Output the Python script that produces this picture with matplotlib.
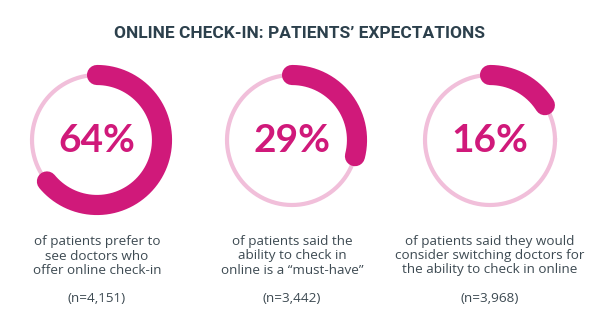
import numpy as np
import matplotlib
matplotlib.use('Agg')
import matplotlib.pyplot as plt

title = 'ONLINE CHECK-IN: PATIENTS\u2019 EXPECTATIONS'
values = [64, 29, 16]
captions = [
    'of patients prefer to\nsee doctors who\noffer online check-in',
    'of patients said the\nability to check in\nonline is a \u201cmust-have\u201d',
    'of patients said they would\nconsider switching doctors for\nthe ability to check in online',
]
sample_sizes = ['(n=4,151)', '(n=3,442)', '(n=3,968)']

MAGENTA = '#d0197a'
LIGHT = '#f1bfda'
DARK = '#2c404c'
GREY = '#3d4a52'

centers_x = [97, 292, 490]
cy = 140
r = 65

fig = plt.figure(figsize=(6, 3.3), dpi=100)
ax = fig.add_axes([0, 0, 1, 1])
ax.set_xlim(0, 600)
ax.set_ylim(330, 0)
ax.set_aspect('equal')
ax.axis('off')

fig.text(0.5, 1 - 33 / 330, title, ha='center', va='center',
         fontsize=12.5, fontweight='bold', color=DARK, family='Roboto')

for cx, v, cap, n in zip(centers_x, values, captions, sample_sizes):
    # full thin ring
    t = np.linspace(0, 2 * np.pi, 400)
    ax.plot(cx + r * np.cos(t), cy + r * np.sin(t), color=LIGHT, lw=3, zorder=1)
    # thick arc clockwise from 12 o'clock (y axis inverted)
    t = np.linspace(-np.pi / 2, -np.pi / 2 + 2 * np.pi * v / 100, 300)
    ax.plot(cx + r * np.cos(t), cy + r * np.sin(t), color=MAGENTA, lw=14.5,
            solid_capstyle='round', zorder=2)
    ax.text(cx, cy + 1, f'{v}%', ha='center', va='center', fontsize=28,
            fontweight='bold', color=MAGENTA, family='Lato')
    ax.text(cx, 256, cap, ha='center', va='center', fontsize=9.7,
            color=GREY, family='Open Sans', linespacing=1.1)
    ax.text(cx, 298, n, ha='center', va='center', fontsize=9.7,
            color=GREY, family='Open Sans')

fig.savefig('out.png', dpi=100)
